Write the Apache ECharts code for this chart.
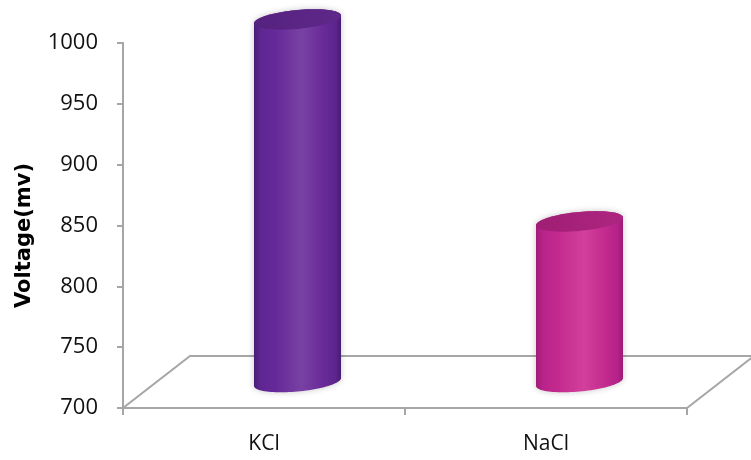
<!DOCTYPE html>
<html>
<head>
<meta charset="utf-8">
<script src="https://cdn.jsdelivr.net/npm/echarts@6/dist/echarts.min.js"></script>
<style>
  html, body { margin: 0; padding: 0; background: #ffffff; }
  #chart { width: 751px; height: 460px; }
</style>
</head>
<body>
<div id="chart"></div>
<script>
// Electrolyte categories and measured voltage (mV)
const categories = ['KCl', 'NaCl'];
const voltage = [998, 832];

// Value axis range
const yMin = 700;
const yMax = 1000;
const yStep = 50;

// Styling constants
const FONT = '"Open Sans", "Liberation Sans", sans-serif';
const AXIS_GRAY = '#a6a6a6';
const DEPTH_X = 67;     // floor depth, horizontal component
const DEPTH_Y = 52;     // floor depth, vertical component
const RADIUS_X = 43.5;  // cylinder half width
const RADIUS_Y = 9.5;   // ellipse half height
const TILT = -0.09;     // slight perspective tilt of the ellipses

const bodyStops = [
  [[0, '#4a1c76'], [0.08, '#5e2692'], [0.25, '#67299a'], [0.55, '#7941a3'], [0.8, '#692a98'], [0.94, '#5c248e'], [1, '#481b72']],
  [[0, '#a21b78'], [0.08, '#b8238a'], [0.25, '#c32a8e'], [0.55, '#d2409b'], [0.8, '#c22a8d'], [0.94, '#b4228a'], [1, '#9e1a74']]
];
const capStops = [
  [[0, '#55227f'], [1, '#5f2889']],
  [[0, '#a01e74'], [1, '#ad2580']]
];

function gradient(stops) {
  return new echarts.graphic.LinearGradient(0, 0, 1, 0,
    stops.map(s => ({ offset: s[0], color: s[1] })));
}

// Floor of the 3D plot area, drawn from the grid rectangle
function renderFloor(params, api) {
  const cs = params.coordSys;
  const fl = [cs.x, cs.y + cs.height];
  const fr = [cs.x + cs.width, cs.y + cs.height];
  const br = [fr[0] + DEPTH_X, fr[1] - DEPTH_Y];
  const bl = [fl[0] + DEPTH_X, fl[1] - DEPTH_Y];
  return {
    type: 'polygon',
    shape: { points: [fl, fr, br, bl] },
    style: { fill: '#ffffff', stroke: AXIS_GRAY, lineWidth: 2 },
    z2: 0
  };
}

// Cylinder standing in the middle of the floor depth
function renderCylinder(params, api) {
  const idx = api.value(0);
  const val = api.value(1);
  const top = api.coord([idx, val]);
  const base = api.coord([idx, yMin]);
  const cx = top[0] + DEPTH_X / 2;
  const ty = top[1] - DEPTH_Y / 2;
  const by = base[1] - DEPTH_Y / 2;
  const pt = (cy, t) => [
    cx + RADIUS_X * Math.cos(t),
    cy + RADIUS_Y * Math.sin(t) + TILT * RADIUS_X * Math.cos(t)
  ];
  const N = 48;
  const body = [];
  body.push(pt(ty, Math.PI));
  for (let k = 0; k <= N; k++) body.push(pt(by, Math.PI - k * Math.PI / N));
  for (let k = 0; k <= N; k++) body.push(pt(ty, -k * Math.PI / N));
  const cap = [];
  for (let k = 0; k < 2 * N; k++) cap.push(pt(ty, k * Math.PI / N));
  const i = params.dataIndex;
  return {
    type: 'group',
    children: [
      {
        type: 'polygon',
        shape: { points: body },
        style: {
          fill: gradient(bodyStops[i]),
          shadowBlur: 6,
          shadowColor: 'rgba(0,0,0,0.22)'
        }
      },
      {
        type: 'polygon',
        shape: { points: cap },
        style: { fill: gradient(capStops[i]) }
      }
    ]
  };
}

const chart = echarts.init(document.getElementById('chart'), null, { renderer: 'canvas' });

chart.setOption({
  animation: false,
  backgroundColor: '#ffffff',
  grid: { left: 123, right: 64, top: 43, bottom: 52, containLabel: false },
  xAxis: {
    type: 'category',
    data: categories,
    axisLine: { show: true, lineStyle: { color: AXIS_GRAY, width: 2 } },
    axisTick: { show: true, length: 7, lineStyle: { color: AXIS_GRAY, width: 2 } },
    axisLabel: { color: '#111111', fontFamily: FONT, fontSize: 21, margin: 26 },
    splitLine: { show: false }
  },
  yAxis: {
    type: 'value',
    min: yMin,
    max: yMax,
    interval: yStep,
    name: 'Voltage(mv)',
    nameLocation: 'middle',
    nameGap: 88,
    nameRotate: 90,
    nameTextStyle: {
      color: '#000000',
      fontFamily: '"DejaVu Sans", sans-serif',
      fontSize: 21,
      fontWeight: 'bold',
      padding: [0, 20, 0, 0]
    },
    axisLine: { show: true, lineStyle: { color: AXIS_GRAY, width: 2 } },
    axisTick: { show: true, length: 6, lineStyle: { color: AXIS_GRAY, width: 2 } },
    axisLabel: { color: '#111111', fontFamily: FONT, fontSize: 22, margin: 25, formatter: v => String(v) },
    splitLine: { show: false }
  },
  series: [
    {
      type: 'custom',
      name: 'floor',
      renderItem: renderFloor,
      data: [[0, yMin]],
      encode: { x: 0, y: 1 },
      z: 1,
      silent: true
    },
    {
      type: 'custom',
      name: 'Voltage',
      renderItem: renderCylinder,
      data: voltage.map((v, i) => [i, v]),
      encode: { x: 0, y: 1 },
      z: 3
    }
  ]
});
</script>
</body>
</html>
